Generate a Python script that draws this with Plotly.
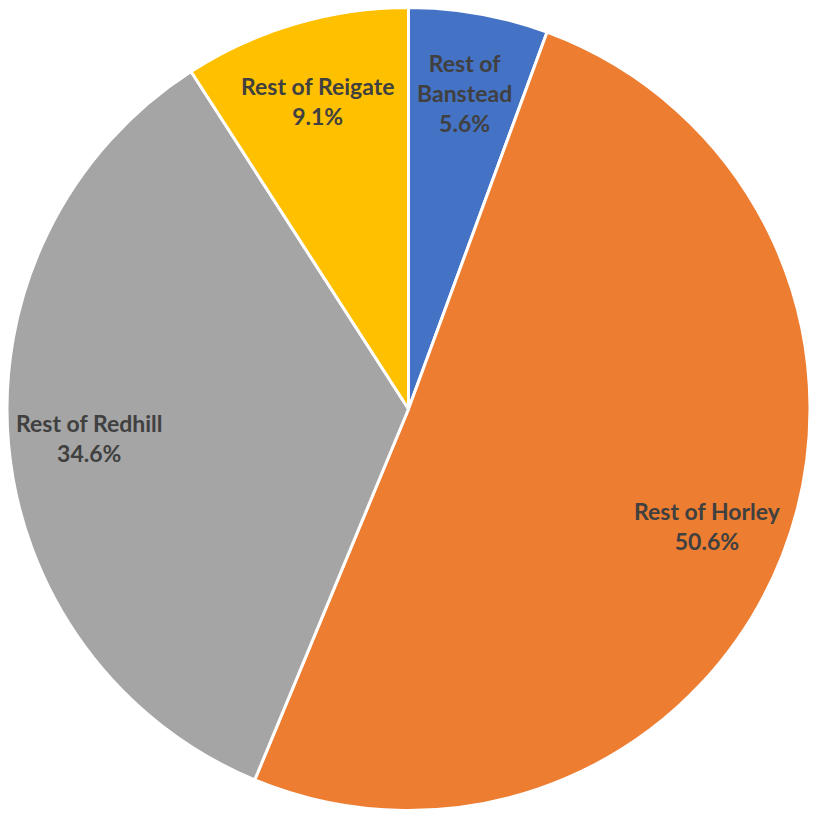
import math
import plotly.graph_objects as go

labels = ["Rest of Banstead", "Rest of Horley", "Rest of Redhill", "Rest of Reigate"]
display_labels = ["Rest of<br>Banstead", "Rest of Horley", "Rest of Redhill", "Rest of Reigate"]
values = [5.6, 50.6, 34.6, 9.1]
colors = ["#4472C4", "#ED7D31", "#A5A5A5", "#FFC000"]

W, H = 813, 816
M = dict(l=7, r=3, t=7, b=5)
LABEL_RADIUS = 0.80  # fraction of pie radius where labels sit

fig = go.Figure(go.Pie(
    labels=labels,
    values=values,
    sort=False,
    direction="clockwise",
    rotation=0,
    marker=dict(colors=colors, line=dict(color="white", width=3)),
    textinfo="none",
    hoverinfo="label+value",
    showlegend=False,
))

# place labels at each slice's mid-angle (derived from the data)
pw = W - M["l"] - M["r"]
ph = H - M["t"] - M["b"]
R = min(pw, ph) / 2
total = sum(values)
cum = 0.0
annotations = []
for lab, v in zip(display_labels, values):
    mid = (cum + v / 2) / total * 2 * math.pi
    cum += v
    dx = LABEL_RADIUS * R * math.sin(mid)
    dy = LABEL_RADIUS * R * math.cos(mid)
    annotations.append(dict(
        x=0.5 + dx / pw, y=0.5 + dy / ph, xref="paper", yref="paper",
        text=f"<b>{lab}<br>{v:.1f}%</b>", showarrow=False,
        xanchor="center", yanchor="middle", align="center",
        font=dict(family="Lato, Open Sans, sans-serif", size=23, color="#404040"),
    ))

fig.update_layout(
    width=W, height=H,
    margin=M,
    paper_bgcolor="white",
    annotations=annotations,
)
fig.write_html("out.html")
